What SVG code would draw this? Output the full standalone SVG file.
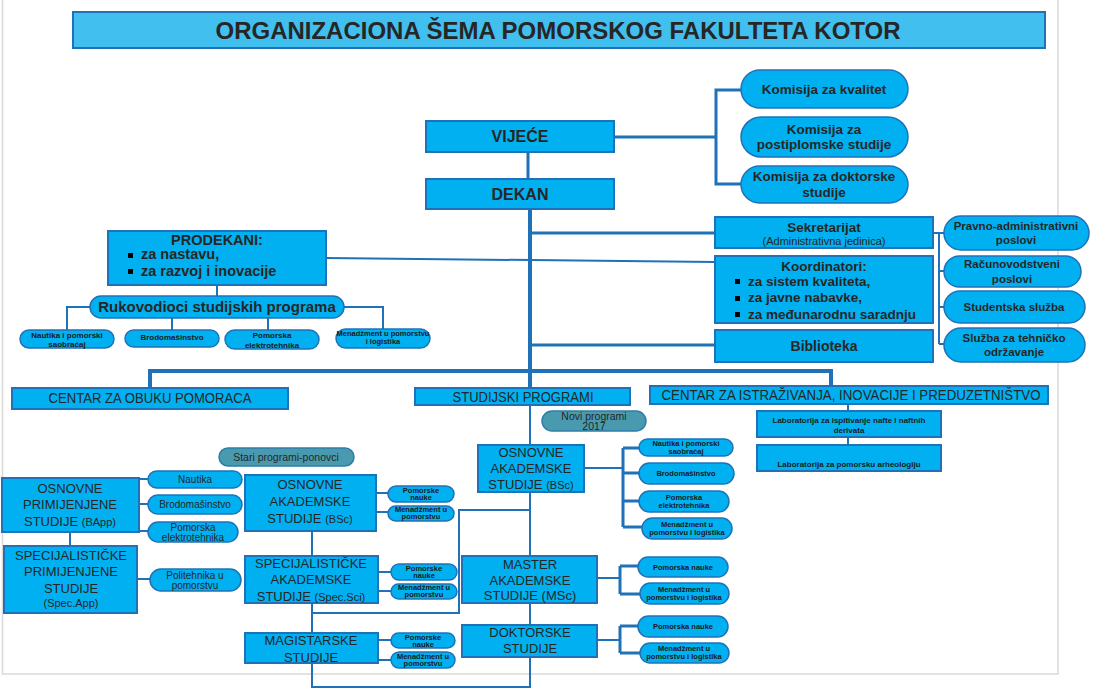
<svg xmlns="http://www.w3.org/2000/svg" width="1094" height="696" viewBox="0 0 1094 696">
<defs>
<style>
.box{fill:#00B0F0;stroke:#1F72B8;stroke-width:2}
.pill{fill:#00B0F0;stroke:#1F72B8;stroke-width:1.5}
.teal{fill:#4A9AAF;stroke:#2E7DA8;stroke-width:1.5}
.ln{fill:none;stroke:#1F72B8;stroke-width:2}
.l3{fill:none;stroke:#1F72B8;stroke-width:3}
.l4{fill:none;stroke:#1F72B8;stroke-width:4}
.pg{fill:none;stroke:#D9D9D9;stroke-width:1.5}
text{font-family:"Liberation Sans",Arial,sans-serif;fill:#262626;text-anchor:middle}
.b{font-weight:bold}
.s{text-anchor:start}
.t8{font-size:8px;font-weight:bold;fill:#1a1a1a}
.t7{font-size:7.5px;font-weight:bold;fill:#1a1a1a}
.t13{font-size:13px}
.t10{font-size:10px}
.bul{fill:#000}
</style>
</defs>
<rect width="1094" height="696" fill="#fff"/>
<path class="pg" d="M2.5,0 V674 H1058 V0"/>

<g id="title">
<rect x="73" y="12" width="972" height="36" fill="#41BFEF" stroke="#1F72B8" stroke-width="2"/>
<text x="558" y="39" class="b" font-size="23" textLength="685" lengthAdjust="spacingAndGlyphs">ORGANIZACIONA ŠEMA POMORSKOG FAKULTETA KOTOR</text>
</g>

<g id="connectors">
<path class="l3" d="M528,152 V179"/>
<path class="l3" d="M614,137 H716 M741,90 H716 V184 H741"/>
<path class="l4" d="M530,209 V388"/>
<path class="l3" d="M530,233 H715 M530,345 H715"/>
<path class="ln" d="M326,258 L715,262"/>
<path class="l4" d="M150,388 V371 H831 V386"/>
<path class="ln" d="M848,404 V411 M848,437 V445"/>
<path class="ln" d="M933,233 H945 M939,233 V344 M939,271 H945 M939,307 H945 M939,344 H945"/>
<path class="ln" d="M217,285 V296 M90,307 H67 V330 M172,318 V330 M268,318 V330 M344,307 H383 V330"/>
<path class="ln" d="M530,406 V445 M530,492 V556 M530,603 V625 M530,657 V687 H312 V663"/>
<path class="ln" d="M584,468 H623"/>
<path class="l3" d="M623,448 V527 M623,448 H640 M623,473 H640 M623,501 H640 M623,527 H643"/>
<path class="ln" d="M597,578 H620"/>
<path class="l3" d="M620,566 V594 M620,566 H639 M620,594 H641"/>
<path class="ln" d="M597,640 H620"/>
<path class="l3" d="M620,626 V653 M620,626 H639 M620,653 H641"/>
<path class="ln" d="M312,531 V556 M312,603 V633 M312,613 H459 V510 H530"/>
<path class="ln" d="M376,493 H388 M376,512 H388 M378,572 H391 M378,591 H391 M378,640 H391 M378,660 H391"/>
<path class="ln" d="M139,479 H148 M139,504 H148 M139,531 H148 M137,579 H150 M70,532 V546"/>
</g>

<g id="vijece"><rect class="box" x="426" y="121" width="188" height="31"/><text x="520" y="142" class="b" font-size="16">VIJEĆE</text></g>
<g id="dekan"><rect class="box" x="426" y="179" width="188" height="30"/><text x="520" y="200" class="b" font-size="16">DEKAN</text></g>

<g id="kom-kvalitet"><rect class="pill" x="741" y="70" width="167" height="38" rx="19"/><text x="824" y="94" class="b" font-size="13.5">Komisija za kvalitet</text></g>
<g id="kom-postdipl"><rect class="pill" x="741" y="117" width="167" height="40" rx="20"/><text x="824" y="134" class="b" font-size="13.5">Komisija za</text><text x="824" y="149" class="b" font-size="13.5">postiplomske studije</text></g>
<g id="kom-dokt"><rect class="pill" x="741" y="166" width="167" height="37" rx="18.5"/><text x="824" y="181" class="b" font-size="13.5">Komisija za doktorske</text><text x="824" y="197" class="b" font-size="13.5">studije</text></g>

<g id="prodekani">
<rect class="box" x="108" y="231" width="218" height="54"/>
<text x="217" y="245" class="b" font-size="14.5">PRODEKANI:</text>
<rect class="bul" x="128" y="253" width="5" height="5"/>
<text x="141" y="259" class="b s" font-size="14.5">za nastavu,</text>
<rect class="bul" x="128" y="269" width="5" height="5"/>
<text x="141" y="276" class="b s" font-size="14.5">za razvoj i inovacije</text>
</g>
<g id="rukovodioci"><rect class="pill" x="90" y="296" width="254" height="22" rx="11"/><text x="217" y="312" class="b" font-size="15">Rukovodioci studijskih programa</text></g>
<g id="ruk-nautika"><rect class="pill" x="20" y="330" width="94" height="18" rx="9"/><text x="67" y="338" class="t8">Nautika i pomorski</text><text x="67" y="347" class="t8">saobraćaj</text></g>
<g id="ruk-brodo"><rect class="pill" x="125" y="330" width="94" height="17" rx="8.5"/><text x="172" y="340" class="t8">Brodomašinstvo</text></g>
<g id="ruk-elektro"><rect class="pill" x="225" y="330" width="94" height="19" rx="9.5"/><text x="272" y="338" class="t8">Pomorska</text><text x="272" y="348" class="t8">elektrotehnika</text></g>
<g id="ruk-menadz"><rect class="pill" x="336" y="329" width="94" height="19" rx="9.5"/><text x="383" y="336" class="t7">Menadžment u pomorstvu</text><text x="383" y="344" class="t7">i logistika</text></g>

<g id="sekretarijat"><rect class="box" x="715" y="217" width="218" height="31"/><text x="824" y="232" class="b" font-size="13.5">Sekretarijat</text><text x="824" y="245" font-size="11">(Administrativna jedinica)</text></g>
<g id="koordinatori">
<rect class="box" x="715" y="256" width="218" height="67"/>
<text x="824" y="271" class="b" font-size="13.5">Koordinatori:</text>
<rect class="bul" x="735" y="279" width="5" height="5"/><text x="748" y="286" class="b s" font-size="13.5">za sistem kvaliteta,</text>
<rect class="bul" x="735" y="296" width="5" height="5"/><text x="748" y="302" class="b s" font-size="13.5">za javne nabavke,</text>
<rect class="bul" x="735" y="312" width="5" height="5"/><text x="748" y="319" class="b s" font-size="13.5">za međunarodnu saradnju</text>
</g>
<g id="biblioteka"><rect class="box" x="715" y="330" width="218" height="32"/><text x="824" y="351" class="b" font-size="14">Biblioteka</text></g>

<g id="pravno"><rect class="pill" x="944" y="216" width="145" height="34" rx="17"/><text x="1016" y="230" class="b" font-size="11.5">Pravno-administrativni</text><text x="1016" y="244" class="b" font-size="11.5">poslovi</text></g>
<g id="racunovodstvo"><rect class="pill" x="944" y="256" width="137" height="31" rx="15.5"/><text x="1012" y="268" class="b" font-size="11.5">Računovodstveni</text><text x="1012" y="283" class="b" font-size="11.5">poslovi</text></g>
<g id="studentska"><rect class="pill" x="944" y="291" width="141" height="32" rx="16"/><text x="1014" y="311" class="b" font-size="11.5">Studentska služba</text></g>
<g id="tehnicko"><rect class="pill" x="944" y="328" width="141" height="34" rx="17"/><text x="1014" y="342" class="b" font-size="11.5">Služba za tehničko</text><text x="1014" y="356" class="b" font-size="11.5">održavanje</text></g>

<g id="centar-obuka"><rect class="box" x="12" y="388" width="276" height="21"/><text x="150" y="403" font-size="15" textLength="203" lengthAdjust="spacingAndGlyphs">CENTAR ZA OBUKU POMORACA</text></g>
<g id="studijski"><rect class="box" x="415" y="388" width="215" height="17"/><text x="523" y="402" font-size="14" textLength="141" lengthAdjust="spacingAndGlyphs">STUDIJSKI PROGRAMI</text></g>
<g id="centar-istr"><rect class="box" x="650" y="386" width="398" height="18"/><text x="851" y="400" font-size="14" textLength="379" lengthAdjust="spacingAndGlyphs">CENTAR ZA ISTRAŽIVANJA, INOVACIJE I PREDUZETNIŠTVO</text></g>
<g id="lab1"><rect class="box" x="757" y="411" width="184" height="26"/><text x="849" y="423" class="t8">Laboratorija za ispitivanje nafte i naftnih</text><text x="849" y="433" class="t8">derivata</text></g>
<g id="lab2"><rect class="box" x="757" y="445" width="184" height="26"/><text x="849" y="467" class="t8">Laboratorija za pomorsku arheologiju</text></g>

<g id="novi"><rect class="teal" x="542" y="411" width="104" height="20" rx="10"/><text x="594" y="420" font-size="10.5">Novi programi</text><text x="594" y="430" font-size="10.5">2017</text></g>
<g id="stari"><rect class="teal" x="219" y="448" width="135" height="18" rx="9"/><text x="286" y="461" font-size="10.5">Stari programi-ponovci</text></g>

<g id="bapp">
<rect class="box" x="2" y="478" width="137" height="54"/>
<text x="70" y="493" class="t13">OSNOVNE</text><text x="70" y="509" class="t13">PRIMIJENJENE</text><text x="70" y="526" class="t13">STUDIJE <tspan font-size="11">(BApp)</tspan></text>
</g>
<g id="specapp">
<rect class="box" x="4" y="546" width="133" height="67"/>
<text x="71" y="560" class="t13">SPECIJALISTIČKE</text><text x="71" y="576" class="t13">PRIMIJENJENE</text><text x="71" y="593" class="t13">STUDIJE</text><text x="71" y="607" font-size="11">(Spec.App)</text>
</g>
<g id="bapp-nautika"><rect class="pill" x="148" y="471" width="94" height="17" rx="8.5"/><text x="195" y="483" class="t10">Nautika</text></g>
<g id="bapp-brodo"><rect class="pill" x="148" y="495" width="94" height="19" rx="9.5"/><text x="195" y="508" class="t10">Brodomašinstvo</text></g>
<g id="bapp-elektro"><rect class="pill" x="148" y="522" width="90" height="20" rx="10"/><text x="193" y="531" class="t10">Pomorska</text><text x="193" y="541" class="t10">elektrotehnika</text></g>
<g id="bapp-polit"><rect class="pill" x="150" y="569" width="91" height="22" rx="11"/><text x="195" y="579" class="t10">Politehnika u</text><text x="195" y="589" class="t10">pomorstvu</text></g>

<g id="old-bsc">
<rect class="box" x="245" y="475" width="131" height="56"/>
<text x="310" y="489" class="t13">OSNOVNE</text><text x="310" y="506" class="t13">AKADEMSKE</text><text x="310" y="523" class="t13">STUDIJE <tspan font-size="11">(BSc)</tspan></text>
</g>
<g id="old-spec">
<rect class="box" x="245" y="556" width="133" height="47"/>
<text x="311" y="568" class="t13">SPECIJALISTIČKE</text><text x="311" y="584" class="t13">AKADEMSKE</text><text x="311" y="601" class="t13">STUDIJE <tspan font-size="11">(Spec.Sci)</tspan></text>
</g>
<g id="old-mag">
<rect class="box" x="245" y="633" width="133" height="30"/>
<text x="311" y="645" class="t13">MAGISTARSKE</text><text x="311" y="662" class="t13">STUDIJE</text>
</g>
<g id="old-bsc-pn"><rect class="pill" x="388" y="486" width="66" height="16" rx="8"/><text x="421" y="493" class="t7">Pomorske</text><text x="421" y="500" class="t7">nauke</text></g>
<g id="old-bsc-mn"><rect class="pill" x="388" y="506" width="66" height="15" rx="7.5"/><text x="421" y="512" class="t7">Menadžment u</text><text x="421" y="519" class="t7">pomorstvu</text></g>
<g id="old-spec-pn"><rect class="pill" x="391" y="564" width="66" height="16" rx="8"/><text x="424" y="571" class="t7">Pomorske</text><text x="424" y="578" class="t7">nauke</text></g>
<g id="old-spec-mn"><rect class="pill" x="391" y="584" width="66" height="15" rx="7.5"/><text x="424" y="590" class="t7">Menadžment u</text><text x="424" y="597" class="t7">pomorstvu</text></g>
<g id="old-mag-pn"><rect class="pill" x="391" y="633" width="64" height="15" rx="7.5"/><text x="423" y="640" class="t7">Pomorske</text><text x="423" y="647" class="t7">nauke</text></g>
<g id="old-mag-mn"><rect class="pill" x="391" y="652" width="64" height="16" rx="8"/><text x="423" y="659" class="t7">Menadžment u</text><text x="423" y="666" class="t7">pomorstvu</text></g>

<g id="new-bsc">
<rect class="box" x="478" y="445" width="106" height="47"/>
<text x="531" y="457" class="t13">OSNOVNE</text><text x="531" y="473" class="t13">AKADEMSKE</text><text x="531" y="489" class="t13">STUDIJE <tspan font-size="11">(BSc)</tspan></text>
</g>
<g id="new-msc">
<rect class="box" x="462" y="556" width="135" height="47"/>
<text x="530" y="569" class="t13">MASTER</text><text x="530" y="585" class="t13">AKADEMSKE</text><text x="530" y="600" class="t13">STUDIJE (MSc)</text>
</g>
<g id="new-dokt">
<rect class="box" x="462" y="625" width="135" height="32"/>
<text x="530" y="637" class="t13">DOKTORSKE</text><text x="530" y="653" class="t13">STUDIJE</text>
</g>
<g id="new-bsc-naut"><rect class="pill" x="639" y="439" width="94" height="17" rx="8.5"/><text x="686" y="446" class="t7">Nautika i pomorski</text><text x="686" y="454" class="t7">saobraćaj</text></g>
<g id="new-bsc-brodo"><rect class="pill" x="639" y="463" width="95" height="21" rx="10.5"/><text x="686" y="476" class="t7">Brodomašinstvo</text></g>
<g id="new-bsc-elektro"><rect class="pill" x="639" y="491" width="90" height="21" rx="10.5"/><text x="684" y="500" class="t7">Pomorska</text><text x="684" y="508" class="t7">elektrotehnika</text></g>
<g id="new-bsc-menadz"><rect class="pill" x="642" y="518" width="90" height="21" rx="10.5"/><text x="687" y="527" class="t7">Menadžment u</text><text x="687" y="535" class="t7">pomorstvu i logistika</text></g>
<g id="msc-pn"><rect class="pill" x="638" y="557" width="90" height="20" rx="10"/><text x="683" y="570" class="t7">Pomorska nauke</text></g>
<g id="msc-mn"><rect class="pill" x="640" y="583" width="89" height="21" rx="10.5"/><text x="684" y="592" class="t7">Menadžment u</text><text x="684" y="600" class="t7">pomorstvu i logistika</text></g>
<g id="dokt-pn"><rect class="pill" x="638" y="616" width="90" height="21" rx="10.5"/><text x="683" y="629" class="t7">Pomorska nauke</text></g>
<g id="dokt-mn"><rect class="pill" x="640" y="643" width="89" height="20" rx="10"/><text x="684" y="651" class="t7">Menadžment u</text><text x="684" y="659" class="t7">pomorstvu i logistika</text></g>
</svg>
